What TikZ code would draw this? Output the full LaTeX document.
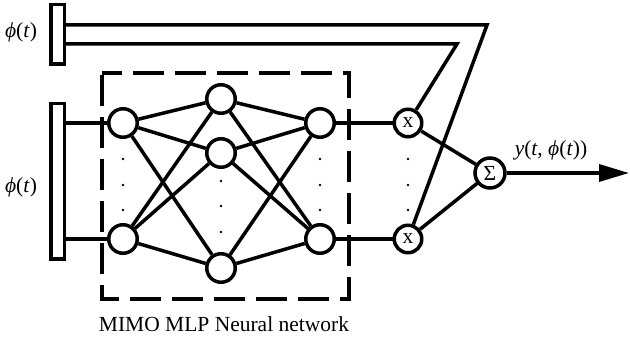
\documentclass[tikz,border=0pt]{standalone}
\usepackage{fontspec}
\setmainfont{Liberation Serif}
\usetikzlibrary{arrows.meta}
\begin{document}
\begin{tikzpicture}[x=1pt,y=-1pt,
  wire/.style={line width=3.5pt},
  neuron/.style={circle,draw,line width=3.5pt,minimum size=28.5pt,inner sep=0pt},
  opnode/.style={circle,draw,line width=3.5pt,minimum size=27.5pt,inner sep=0pt,font=\fontsize{21.5}{24}\selectfont},
  inbar/.style={rectangle,draw,line width=3.5pt,minimum width=13.5pt,inner sep=0pt},
  lbl/.style={font=\fontsize{21.5}{24}\selectfont,inner sep=0pt},
  smalldot/.style={circle,fill,inner sep=0pt,minimum size=2.6pt}
]
\useasboundingbox (0,0) rectangle (630,342);

% input bars
\node[inbar,minimum height=59.5pt] (barA) at (57.5,34.5) {};
\node[inbar,minimum height=155.5pt] (barB) at (57.5,181.5) {};
\node[lbl,anchor=base] (phiA) at (21,38) {\textit{ϕ}(\textit{t})};
\node[lbl,anchor=base] (phiB) at (21,193) {\textit{ϕ}(\textit{t})};

% neurons
\node[neuron] (n1a) at (123,123) {};
\node[neuron] (n1b) at (123,239) {};
\node[neuron] (h1) at (221,99) {};
\node[neuron] (h2) at (221,153) {};
\node[neuron] (h3) at (221,268) {};
\node[neuron] (n3a) at (320,123) {};
\node[neuron] (n3b) at (320,239) {};
\node[opnode] (xa) at (408,123) {x};
\node[opnode] (xb) at (408,239) {x};
\node[opnode,minimum size=30pt] (sig) at (490,173) {Σ};

% dots
\foreach \xx in {123,320,408}{
  \node[smalldot] at (\xx,159) {};
  \node[smalldot] at (\xx,185) {};
  \node[smalldot] at (\xx,210) {};
}
\foreach \yy in {181,206,232}{
  \node[smalldot] at (221,\yy) {};
}

% dashed box
\draw[line width=3.5pt,dash pattern=on 31pt off 11pt,dash phase=40pt]
  (102,73) -- (102,299) -- (349,299) -- (349,73) -- cycle;
\node[lbl,anchor=base] (cap) at (224,331) {MIMO MLP Neural network};

% connections
\draw[wire] (barB.east |- n1a) -- (n1a);
\draw[wire] (barB.east |- n1b) -- (n1b);
\foreach \a in {n1a,n1b}{
  \foreach \b in {h1,h2,h3}{
    \draw[wire] (\a) -- (\b);
  }
}
\foreach \a in {h1,h2,h3}{
  \foreach \b in {n3a,n3b}{
    \draw[wire] (\a) -- (\b);
  }
}
\draw[wire] (n3a) -- (xa);
\draw[wire] (n3b) -- (xb);
\draw[wire] (xa) -- (sig);
\draw[wire] (xb) -- (sig);

\coordinate (c1) at (487,25);
\coordinate (c2) at (457,44);
\draw[wire] (barA.east |- c1) -- (c1) -- (xb);
\draw[wire] (barA.east |- c2) -- (c2) -- (xa);

\coordinate (out) at (629,173);
\draw[wire,-{Triangle[length=30pt,width=17pt]}] (sig) -- (out);
\node[lbl,anchor=base] (ylab) at (551,156) {\textit{y}(\textit{t}, \textit{ϕ}(\textit{t}))};
\end{tikzpicture}
\end{document}
